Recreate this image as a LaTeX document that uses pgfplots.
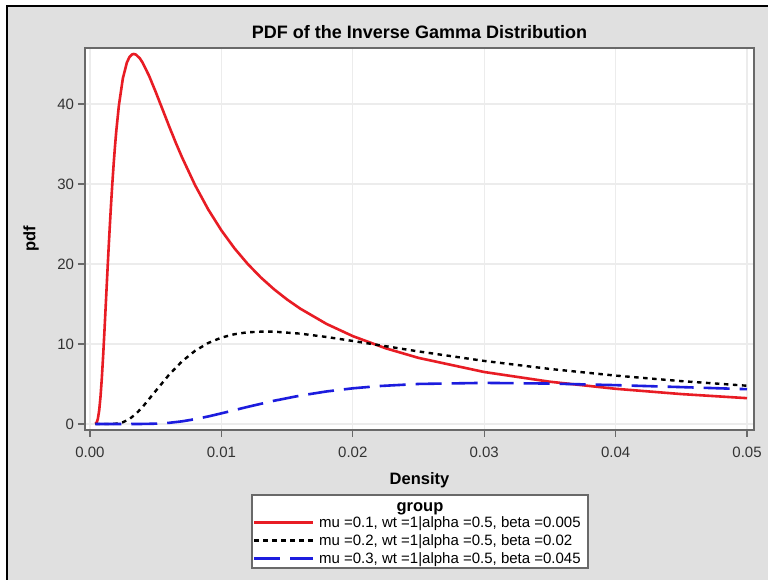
\documentclass[border=0pt]{standalone}
\usepackage{fontspec}
\setmainfont{Liberation Sans}
\usepackage{pgfplots}
\pgfplotsset{compat=1.18}
\definecolor{bg}{RGB}{224,224,224}
\definecolor{framec}{RGB}{105,105,105}
\definecolor{gridc}{RGB}{236,236,236}
\definecolor{cred}{RGB}{232,28,36}
\definecolor{cblue}{RGB}{28,28,222}
\begin{document}
\begin{tikzpicture}[x=1pt,y=1pt]
\path[use as bounding box] (0,0) rectangle (768,580);
\fill[bg] (6,0) rectangle (768,574);
\draw[black, line width=2pt] (6.5,0) -- (6.5,573.5) -- (768,573.5);
\draw[framec, line width=1.3pt, fill=white] (252,12) rectangle (588,85);
\node[font=\fontsize{16.5}{19}\selectfont\bfseries] at (420,71) {group};
\begin{axis}[
  at={(85pt,150pt)}, anchor=south west,
  scale only axis, width=669pt, height=382pt,
  xmin=-0.00038, xmax=0.050533, ymin=-0.75, ymax=47,
  axis background/.style={fill=white},
  axis line style={draw=framec, line width=1.8pt},
  tick style={draw=framec, line width=1.3pt},
  tick align=outside, major tick length=7pt,
  xtick={0,0.01,0.02,0.03,0.04,0.05},
  xticklabels={0.00,0.01,0.02,0.03,0.04,0.05},
  ytick={0,10,20,30,40},
  yticklabels={0,10,20,30,40},
  scaled x ticks=false,
  xtick pos=bottom, ytick pos=left,
  grid=major, major grid style={draw=gridc, line width=1.2pt},
  /pgf/number format/assume math mode=true,
  xticklabel style={font=\fontsize{15}{18}\selectfont, text=black!80, yshift=-6pt},
  yticklabel style={font=\fontsize{15}{18}\selectfont, text=black!80, xshift=-0.5pt},
  title={PDF of the Inverse Gamma Distribution},
  title style={at={(axis description cs:0.5,1.027)}, anchor=center, font=\fontsize{18}{21}\selectfont\bfseries},
  xlabel={Density}, ylabel={pdf},
  xlabel style={at={(axis description cs:0.5,-0.131)}, anchor=center, font=\fontsize{16.5}{19}\selectfont\bfseries},
  ylabel style={at={(axis description cs:-0.0807,0.5)}, anchor=center, font=\fontsize{16.5}{19}\selectfont\bfseries},
  legend style={at={(axis description cs:0.2511,-0.2225)}, anchor=north west, draw=none, fill=none, inner sep=0pt, outer sep=0pt,
    font=\fontsize{15}{17.5}\selectfont, row sep=2.5pt, column sep=3pt, nodes={inner sep=1.5pt}},
  legend cell align=left,
  legend image code/.code={\draw[#1] (0pt,0pt) -- (59pt,0pt);},
]
\addplot[cred, line width=2.6pt, line join=round] coordinates {
(0.0004,0.0186)(0.0005,0.162)(0.0006,0.6526)(0.0007,1.703)(0.0008,3.404)(0.0009,5.712)
(0.001,8.500)(0.0011,11.604)(0.0012,14.879)(0.0013,18.19)(0.0014,21.42)(0.0015,24.497)
(0.0016,27.39)(0.0017,30.06)(0.0018,32.48)(0.0019,34.66)(0.002,36.61)(0.0022,39.83)
(0.0025,43.19)(0.0028,45.15)(0.003,45.86)(0.0032,46.20)(0.00333,46.25)(0.0035,46.17)
(0.0038,45.69)(0.004,45.18)(0.0045,43.51)(0.005,41.51)(0.0055,39.41)(0.006,37.31)
(0.0065,35.27)(0.007,33.35)(0.008,29.84)(0.009,26.81)(0.01,24.20)(0.011,21.95)
(0.012,20.01)(0.013,18.32)(0.014,16.85)(0.015,15.56)(0.016,14.42)(0.018,12.51)
(0.02,10.985)(0.0225,9.465)(0.025,8.263)(0.03,6.499)(0.035,5.282)(0.04,4.401)
(0.045,3.740)(0.05,3.229)
};
\addlegendentry{mu =0.1, wt =1|alpha =0.5, beta =0.005}
\addplot[black, line width=2.4pt, dash pattern=on 4.5pt off 4.5pt] coordinates {
(0.0004,0)(0.001,0)(0.0015,0.0022)(0.002,0.0405)(0.0025,0.2141)(0.003,0.618)(0.0035,1.2715)
(0.004,2.125)(0.005,4.133)(0.006,6.124)(0.007,7.825)(0.008,9.153)(0.009,10.127)
(0.01,10.798)(0.011,11.226)(0.012,11.464)(0.0133,11.563)(0.014,11.543)(0.016,11.295)
(0.018,10.876)(0.02,10.378)(0.025,9.070)(0.03,7.884)(0.035,6.881)(0.04,6.049)
(0.045,5.359)(0.05,4.784)
};
\addlegendentry{mu =0.2, wt =1|alpha =0.5, beta =0.02}
\addplot[cblue, line width=2.6pt, dash pattern=on 26pt off 10pt] coordinates {
(0.0004,0)(0.002,0)(0.003,0.0002)(0.004,0.00615)(0.005,0.0418)(0.006,0.1424)(0.007,0.330)
(0.008,0.603)(0.009,0.9445)(0.01,1.3296)(0.011,1.735)(0.012,2.141)(0.014,2.903)
(0.016,3.551)(0.018,4.068)(0.02,4.460)(0.022,4.743)(0.025,5.005)(0.03,5.139)
(0.035,5.053)(0.04,4.857)(0.045,4.612)(0.05,4.352)
};
\addlegendentry{mu =0.3, wt =1|alpha =0.5, beta =0.045}
\end{axis}
\end{tikzpicture}
\end{document}
